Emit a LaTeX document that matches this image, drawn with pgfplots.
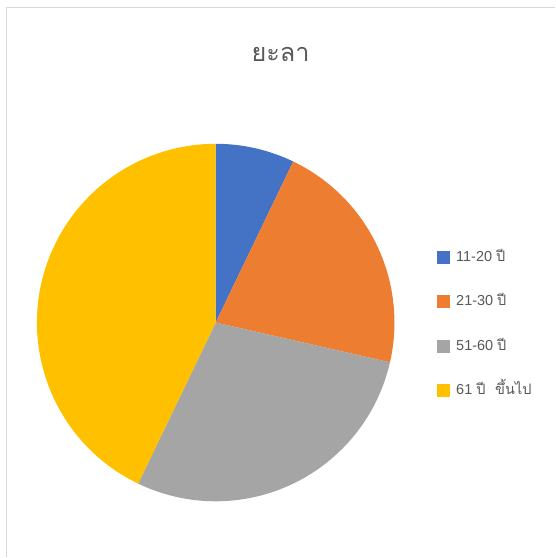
\documentclass[border=0pt]{standalone}
\usepackage{fontspec}
\usepackage{pgfplots}
\usepackage{pgfplotstable}
\pgfplotsset{compat=1.18}
\setmainfont{Liberation Sans}
\newfontfamily\thaifont[Script=Thai]{Loma}

\definecolor{pieblue}{HTML}{4472C4}
\definecolor{pieorange}{HTML}{ED7D31}
\definecolor{piegray}{HTML}{A5A5A5}
\definecolor{pieyellow}{HTML}{FFC000}
\definecolor{txtgray}{HTML}{595959}
\definecolor{framegray}{HTML}{D9D9D9}

% จำนวนคน แต่ละช่วงอายุ
\pgfplotstableread{
age value
11-20 1
21-30 3
51-60 4
61+ 6
}\piedata

\begin{document}
\begin{tikzpicture}
% slice angles, clockwise from 12 o'clock
\pgfplotstablegetelem{0}{value}\of\piedata\edef\vA{\pgfplotsretval}
\pgfplotstablegetelem{1}{value}\of\piedata\edef\vB{\pgfplotsretval}
\pgfplotstablegetelem{2}{value}\of\piedata\edef\vC{\pgfplotsretval}
\pgfplotstablegetelem{3}{value}\of\piedata\edef\vD{\pgfplotsretval}
\pgfmathsetmacro\total{\vA+\vB+\vC+\vD}
\pgfmathsetmacro\aA{90-360*\vA/\total}
\pgfmathsetmacro\aB{\aA-360*\vB/\total}
\pgfmathsetmacro\aC{\aB-360*\vC/\total}
\pgfmathsetmacro\aD{\aC-360*\vD/\total}
\def\R{4.475}
\begin{axis}[
    x=1cm, y=1cm,
    xmin=-5.4, xmax=8.5, ymin=-5.875, ymax=8.075,
    hide axis, clip=false,
    legend image code/.code={\fill[#1] (0cm,-0.15cm) rectangle (0.3cm,0.15cm);},
    legend style={
        at={(axis cs:5.525,1.825)}, anchor=north west,
        draw=none, fill=none, inner sep=0pt,
        font=\fontsize{10.3}{12}\selectfont, text=txtgray,
        nodes={inner sep=0pt, text height=8pt, text depth=2pt, anchor=west},
        column sep=0.175cm, row sep=21.7pt,
    },
]
\path (axis cs:-5.4,-5.875) rectangle (axis cs:8.5,8.075);
\draw[framegray, line width=1.1pt] (axis cs:-5.2375,-5.875) -- (axis cs:-5.2375,7.8875) -- (axis cs:8.5,7.8875);

\fill[pieblue]   (axis cs:0,0) -- (axis cs:{\R*cos(90)},{\R*sin(90)}) arc[start angle=90, end angle=\aA, radius=\R] -- cycle;
\fill[pieorange] (axis cs:0,0) -- (axis cs:{\R*cos(\aA)},{\R*sin(\aA)}) arc[start angle=\aA, end angle=\aB, radius=\R] -- cycle;
\fill[piegray]   (axis cs:0,0) -- (axis cs:{\R*cos(\aB)},{\R*sin(\aB)}) arc[start angle=\aB, end angle=\aC, radius=\R] -- cycle;
\fill[pieyellow] (axis cs:0,0) -- (axis cs:{\R*cos(\aC)},{\R*sin(\aC)}) arc[start angle=\aC, end angle=\aD, radius=\R] -- cycle;

\node[font=\thaifont\fontsize{18}{22}\selectfont, text=txtgray] at (axis cs:1.625,6.7) {ยะลา};

\addlegendimage{pieblue}
\addlegendentry{11-20 {\thaifont ปี}}
\addlegendimage{pieorange}
\addlegendentry{21-30 {\thaifont ปี}}
\addlegendimage{piegray}
\addlegendentry{51-60 {\thaifont ปี}}
\addlegendimage{pieyellow}
\addlegendentry{61 {\thaifont ปี\ \ ขึ้นไป}}
\end{axis}
\end{tikzpicture}
\end{document}
